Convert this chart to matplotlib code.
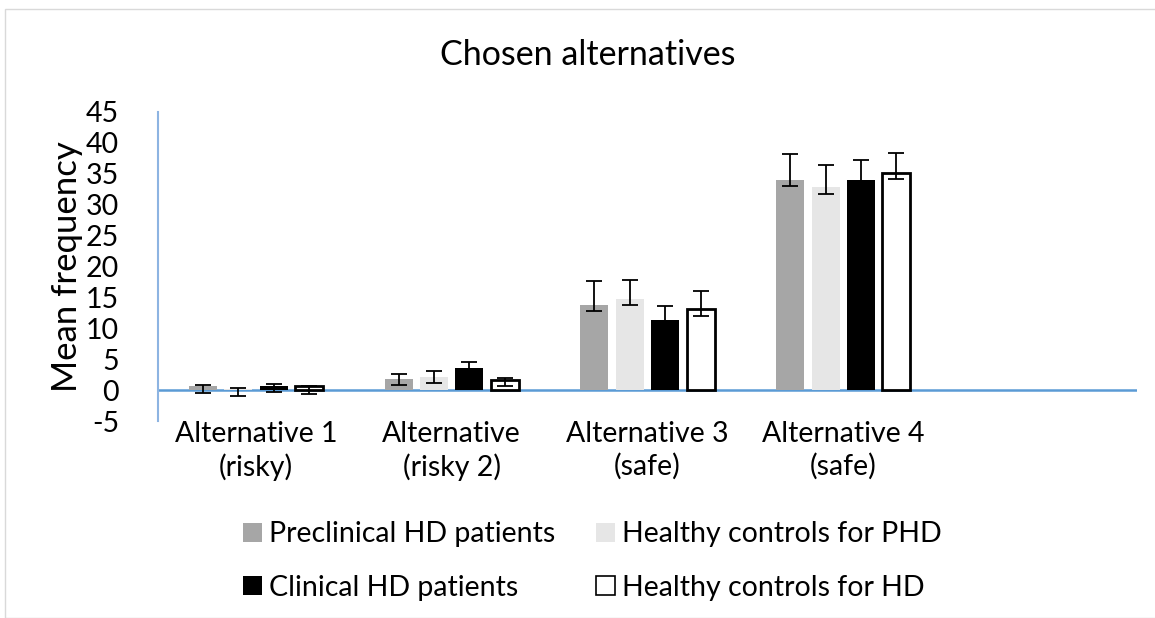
import matplotlib
matplotlib.use("Agg")
import matplotlib.pyplot as plt
import numpy as np
from matplotlib.patches import Patch, Rectangle

plt.rcParams['font.family'] = ['Lato', 'DejaVu Sans']

# ---------------- data ----------------
categories = ["Alternative 1\n(risky)", "Alternative\n(risky 2)",
              "Alternative 3\n(safe)", "Alternative 4\n(safe)", ""]
series_names = ["Preclinical HD patients", "Healthy controls for PHD",
                "Clinical HD patients", "Healthy controls for HD"]

preclinical      = [0.6, 1.8, 13.8, 34.0]
preclinical_up   = [0.26, 0.85, 3.9, 4.2]
preclinical_down = [1.1, 1.0, 1.0, 1.0]

healthy_phd      = [0.1, 2.15, 14.8, 32.8]
healthy_phd_up   = [0.17, 0.9, 3.0, 3.7]
healthy_phd_down = [1.0, 0.95, 1.0, 1.0]

clinical         = [0.65, 3.5, 11.3, 34.0]
clinical_up      = [0.32, 1.0, 2.3, 3.2]
clinical_down    = [0.97, 1.0, 1.0, 1.0]

healthy_hd       = [0.6, 1.6, 13.1, 35.2]
healthy_hd_up    = [0.05, 0.4, 2.9, 3.2]
healthy_hd_down  = [1.25, 1.0, 1.1, 1.1]

yticks = [-5, 0, 5, 10, 15, 20, 25, 30, 35, 40, 45]

# ---------------- styling ----------------
means = [preclinical, healthy_phd, clinical, healthy_hd]
ups = [preclinical_up, healthy_phd_up, clinical_up, healthy_hd_up]
downs = [preclinical_down, healthy_phd_down, clinical_down, healthy_hd_down]
faces = ['#A6A6A6', '#E6E6E6', '#000000', '#FFFFFF']
edges = ['#A6A6A6', '#E6E6E6', '#000000', '#000000']
lws = [0, 0, 0, 2.0]

W, H = 1155, 618
fig = plt.figure(figsize=(W / 100, H / 100), dpi=100)
ax = fig.add_axes([158 / W, 1 - 421 / H, (1137 - 158) / W, (421 - 112) / H])

# chart border
fig.patches.append(Rectangle((5 / W, 0), 1.5, 1 - 9 / H, transform=fig.transFigure,
                             fill=False, edgecolor='#D9D9D9', linewidth=1.0))

x = np.arange(len(categories))
bw = 0.143
step = 0.181
for i in range(4):
    xi = x[:4] + (i - 1.5) * step
    ax.bar(xi, means[i], width=bw, color=faces[i], edgecolor=edges[i],
           linewidth=lws[i], zorder=2)
    ax.errorbar(xi, means[i], yerr=[downs[i], ups[i]], fmt='none',
                ecolor='black', elinewidth=1.3, capsize=6, capthick=1.3, zorder=3)

ax.set_xlim(-0.5, len(categories) - 0.5)
ax.set_ylim(-5, 45)
ax.set_yticks(yticks)
ax.set_yticklabels([str(t) for t in yticks], fontsize=20.5)
ax.set_xticks(x)
ax.set_xticklabels(categories, fontsize=20.5, linespacing=1.28)
ax.tick_params(axis='y', length=0, pad=28)
ax.tick_params(axis='x', length=0, pad=0)

for s in ['top', 'right', 'bottom']:
    ax.spines[s].set_visible(False)
ax.spines['left'].set_color('#8DB4E2')
ax.spines['left'].set_linewidth(1.5)
ax.axhline(0, color='#5B9BD5', linewidth=1.8, zorder=1.5)

ax.set_ylabel("Mean frequency", fontsize=25)
ax.yaxis.set_label_coords((83 - 158) / (1137 - 158), 0.5)
fig.text(588 / W, 1 - 55 / H, "Chosen alternatives", ha='center', va='center', fontsize=24.5)

# legend
handles = [Patch(facecolor=faces[i], edgecolor=edges[i], linewidth=1.2 if i == 3 else 0)
           for i in range(4)]
order = [0, 2, 1, 3]
fig.legend([handles[i] for i in order], [series_names[i] for i in order],
           ncol=2, loc='center left', bbox_to_anchor=(243 / W, 1 - 561 / H),
           frameon=False, fontsize=20.5, handlelength=0.66, handleheight=0.66,
           handletextpad=0.25, columnspacing=1.45, labelspacing=0.95,
           borderpad=0, borderaxespad=0)

fig.savefig("out.png", dpi=100)
